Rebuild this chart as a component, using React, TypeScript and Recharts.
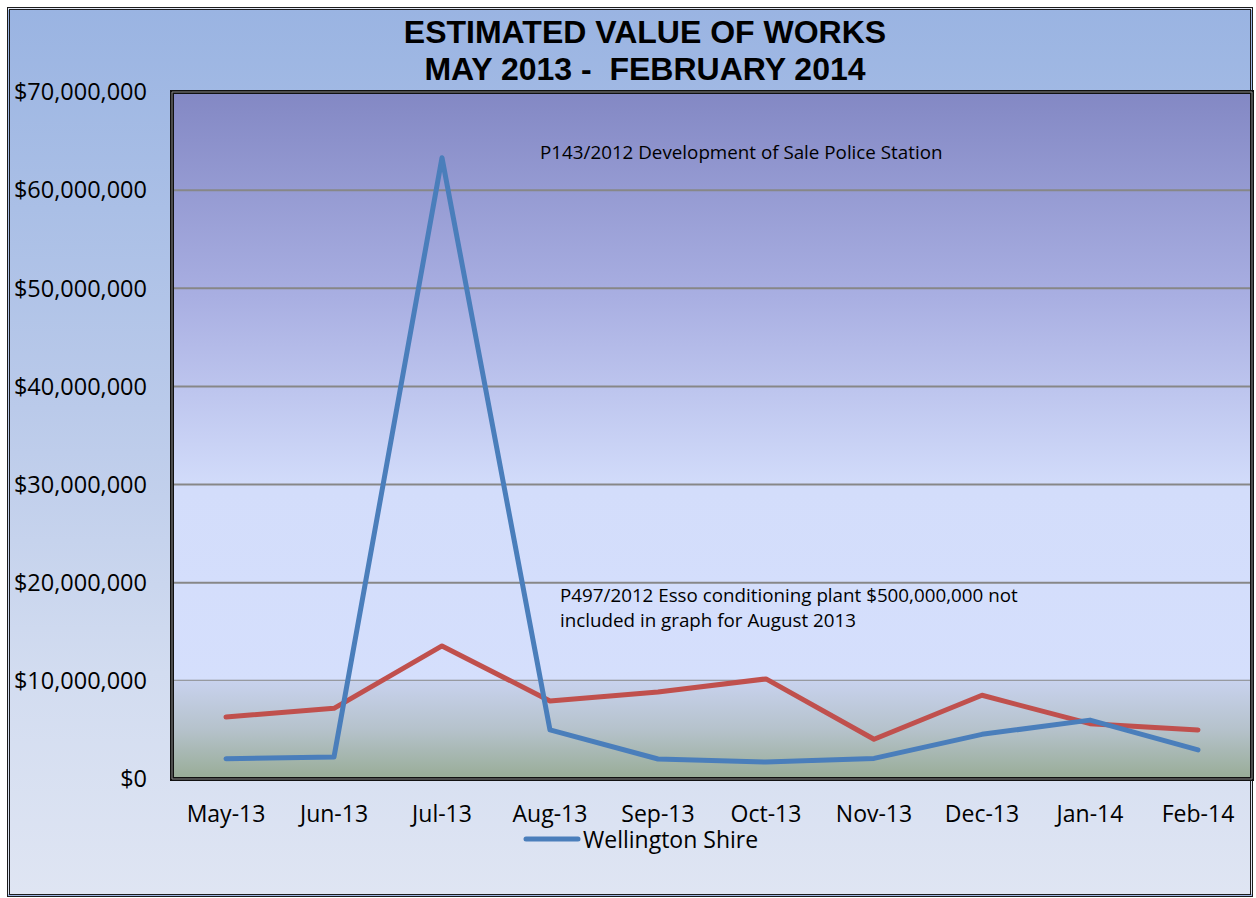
import React from "react";
import {
  LineChart,
  Line,
  XAxis,
  YAxis,
  CartesianGrid,
  Legend,
  ReferenceArea,
} from "recharts";

const months = [
  "May-13",
  "Jun-13",
  "Jul-13",
  "Aug-13",
  "Sep-13",
  "Oct-13",
  "Nov-13",
  "Dec-13",
  "Jan-14",
  "Feb-14",
];
const wellington = [
  2070000, 2240000, 63300000, 5000000, 2040000, 1730000, 2100000, 4550000,
  6000000, 2960000,
];
const other = [
  6320000, 7200000, 13560000, 7950000, 8870000, 10200000, 4050000, 8530000,
  5640000, 5000000,
];
const yTicks = [0, 10000000, 20000000, 30000000, 40000000, 50000000, 60000000, 70000000];

const data = months.map((m, i) => ({
  month: m,
  wellington: wellington[i],
  other: other[i],
}));

const font = "'Open Sans', 'Noto Sans', sans-serif";

const LegendBox = () => (
  <div style={{ display: "flex", alignItems: "center", height: 32, fontFamily: font, fontSize: 23, color: "#000" }}>
    <svg width={58} height={10}>
      <line x1={3} y1={5} x2={55} y2={5} stroke="#4A7EBB" strokeWidth={5} strokeLinecap="round" />
    </svg>
    <span style={{ marginLeft: 2 }}>Wellington Shire</span>
  </div>
);

const App = () => {
  return (
    <div style={{ position: "absolute", left: 0, top: 0, width: 1256, height: 898 }}>
      <div
        style={{
          position: "absolute",
          left: 7,
          top: 7,
          width: 1240,
          height: 884,
          border: "3px double #1c1c1c",
          background: "linear-gradient(to bottom, #9AB4E2 0%, #BACAEA 45%, #D2DCF0 75%, #DFE5F3 100%)",
        }}
      />
      <div
        style={{
          position: "absolute",
          left: 345,
          top: 14,
          width: 600,
          textAlign: "center",
          fontFamily: "'Liberation Sans', Arial, sans-serif",
          fontWeight: "bold",
          fontSize: 32,
          lineHeight: "37px",
          color: "#000",
        }}
      >
        ESTIMATED VALUE OF WORKS
        <br />
        MAY 2013 -&nbsp; FEBRUARY 2014
      </div>
      <div style={{ position: "absolute", left: 0, top: 0 }}>
        <LineChart
          width={1256}
          height={898}
          data={data}
          margin={{ top: 92, right: 4, left: 0, bottom: 47 }}
        >
          <defs>
            <linearGradient id="plotGrad" x1="0" y1="0" x2="0" y2="1">
              <stop offset="0%" stopColor="#8388C4" />
              <stop offset="30%" stopColor="#A9AFE2" />
              <stop offset="58%" stopColor="#D3DDFB" />
              <stop offset="100%" stopColor="#D6E0FD" />
            </linearGradient>
            <linearGradient id="lowGrad" x1="0" y1="0" x2="0" y2="1">
              <stop offset="0%" stopColor="#C8D2EE" />
              <stop offset="50%" stopColor="#B5C2CB" />
              <stop offset="100%" stopColor="#98AC96" />
            </linearGradient>
          </defs>
          <CartesianGrid
            vertical={false}
            stroke="#878787"
            strokeWidth={2}
            fill="url(#plotGrad)"
            fillOpacity={1}
          />
          <ReferenceArea y1={0} y2={10000000} fill="url(#lowGrad)" fillOpacity={1} stroke="none" />
          <ReferenceArea y1={10000000} y2={10000000} stroke="#878787" strokeWidth={2} />
          <XAxis
            dataKey="month"
            scale="band"
            axisLine={false}
            tickLine={false}
            tickSize={0}
            tickMargin={27}
            height={40}
            interval={0}
            tick={{ fill: "#000", fontSize: 23, fontFamily: font }}
          />
          <YAxis
            domain={[0, 70000000]}
            ticks={yTicks}
            width={172}
            axisLine={false}
            tickLine={false}
            tickSize={0}
            tickMargin={25}
            tickFormatter={(v: number) => "$" + v.toLocaleString("en-US")}
            tick={{ fill: "#000", fontSize: 23.5, fontFamily: font }}
          />
          <ReferenceArea y1={0} y2={70000000} fill="none" stroke="#111" strokeWidth={4} />
          <ReferenceArea y1={0} y2={70000000} fill="none" stroke="#8a8a8a" strokeWidth={1} />
          <Legend content={<LegendBox />} wrapperStyle={{ left: 523, top: 823, width: "auto" }} />
          <Line
            dataKey="other"
            name="Other"
            legendType="none"
            stroke="#C0504D"
            strokeWidth={5}
            strokeLinecap="round"
            strokeLinejoin="round"
            dot={false}
            isAnimationActive={false}
          />
          <Line
            dataKey="wellington"
            name="Wellington Shire"
            stroke="#4A7EBB"
            strokeWidth={5}
            strokeLinecap="round"
            strokeLinejoin="round"
            dot={false}
            isAnimationActive={false}
          />
        </LineChart>
      </div>
      <div
        style={{
          position: "absolute",
          left: 540,
          top: 140,
          fontFamily: font,
          fontSize: 18.8,
          lineHeight: "25px",
          color: "#000",
          whiteSpace: "nowrap",
        }}
      >
        P143/2012 Development of Sale Police Station
      </div>
      <div
        style={{
          position: "absolute",
          left: 560,
          top: 583,
          fontFamily: font,
          fontSize: 18.8,
          lineHeight: "25px",
          color: "#000",
          whiteSpace: "nowrap",
        }}
      >
        P497/2012 Esso conditioning plant $500,000,000 not
        <br />
        included in graph for August 2013
      </div>
    </div>
  );
};

export default App;
